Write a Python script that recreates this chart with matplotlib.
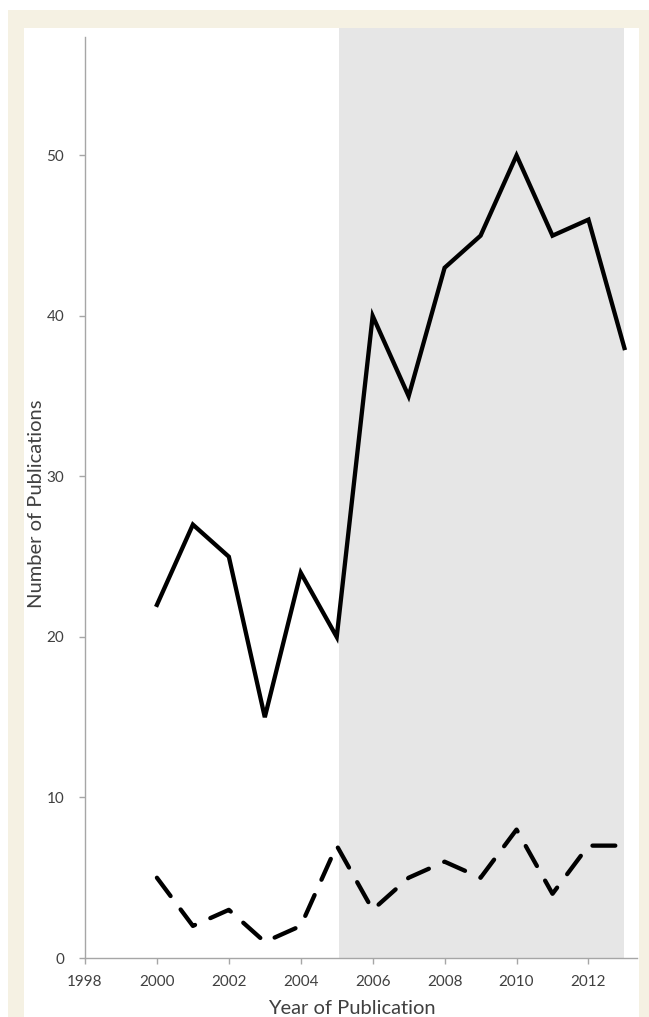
import matplotlib.pyplot as plt
from matplotlib.patches import Rectangle

years = [2000, 2001, 2002, 2003, 2004, 2005, 2006, 2007, 2008, 2009, 2010, 2011, 2012, 2013]
total = [22, 27, 25, 15, 24, 20, 40, 35, 43, 45, 50, 45, 46, 38]
subset = [5, 2, 3, 1, 2, 7, 3, 5, 6, 5, 8, 4, 7, 7]
shade_start, shade_end = 2005.05, 2013
xticks = [1998, 2000, 2002, 2004, 2006, 2008, 2010, 2012]
yticks = [0, 10, 20, 30, 40, 50]

plt.rcParams['font.family'] = ['Lato', 'DejaVu Sans']

W, H = 649, 1017
fig = plt.figure(figsize=(W / 100, H / 100), dpi=100)
fig.patch.set_facecolor('white')

# cream frame around the panel
cream = '#f5f1e3'
for x0, y0, w, h in [(8, 10, 16, 1007), (8, 10, 641, 18), (639, 10, 10, 1007)]:
    fig.patches.append(Rectangle((x0 / W, 1 - (y0 + h) / H), w / W, h / H,
                                 transform=fig.transFigure, facecolor=cream,
                                 edgecolor='none', zorder=0))

left, right = 85, 637
bottom, top = 958, 27
ax = fig.add_axes([left / W, 1 - bottom / H, (right - left) / W, (bottom - top) / H])
ax.set_facecolor('none')

ax.axvspan(shade_start, shade_end, color='#e6e6e6', zorder=0, lw=0)
ax.plot(years, total, color='black', lw=3.1, solid_joinstyle='miter', zorder=3)
ax.plot(years, subset, color='black', lw=3.1, dashes=(5.3, 3.9),
        dash_capstyle='round', zorder=3)

ax.set_xlim(1998, 2013.35)
ax.set_ylim(0, 58)
ax.set_xticks(xticks)
ax.set_yticks(yticks)

for s in ['top', 'right']:
    ax.spines[s].set_visible(False)
for s in ['left', 'bottom']:
    ax.spines[s].set_color('#a6a6a6')
    ax.spines[s].set_linewidth(1.0)
ax.spines['left'].set_bounds(0, 57.4)

ax.tick_params(axis='both', colors='#a6a6a6', labelcolor='#404040',
               labelsize=11, length=4, width=1)
ax.tick_params(axis='y', pad=11)
ax.tick_params(axis='x', pad=8)

fig.text(352 / W, 1 - 1008 / H, 'Year of Publication', fontsize=14.5,
         color='#404040', ha='center', va='center')
fig.text(37 / W, 1 - 504 / H, 'Number of Publications', fontsize=14.5,
         color='#404040', ha='center', va='center', rotation=90)

fig.savefig('out.png', dpi=100)
